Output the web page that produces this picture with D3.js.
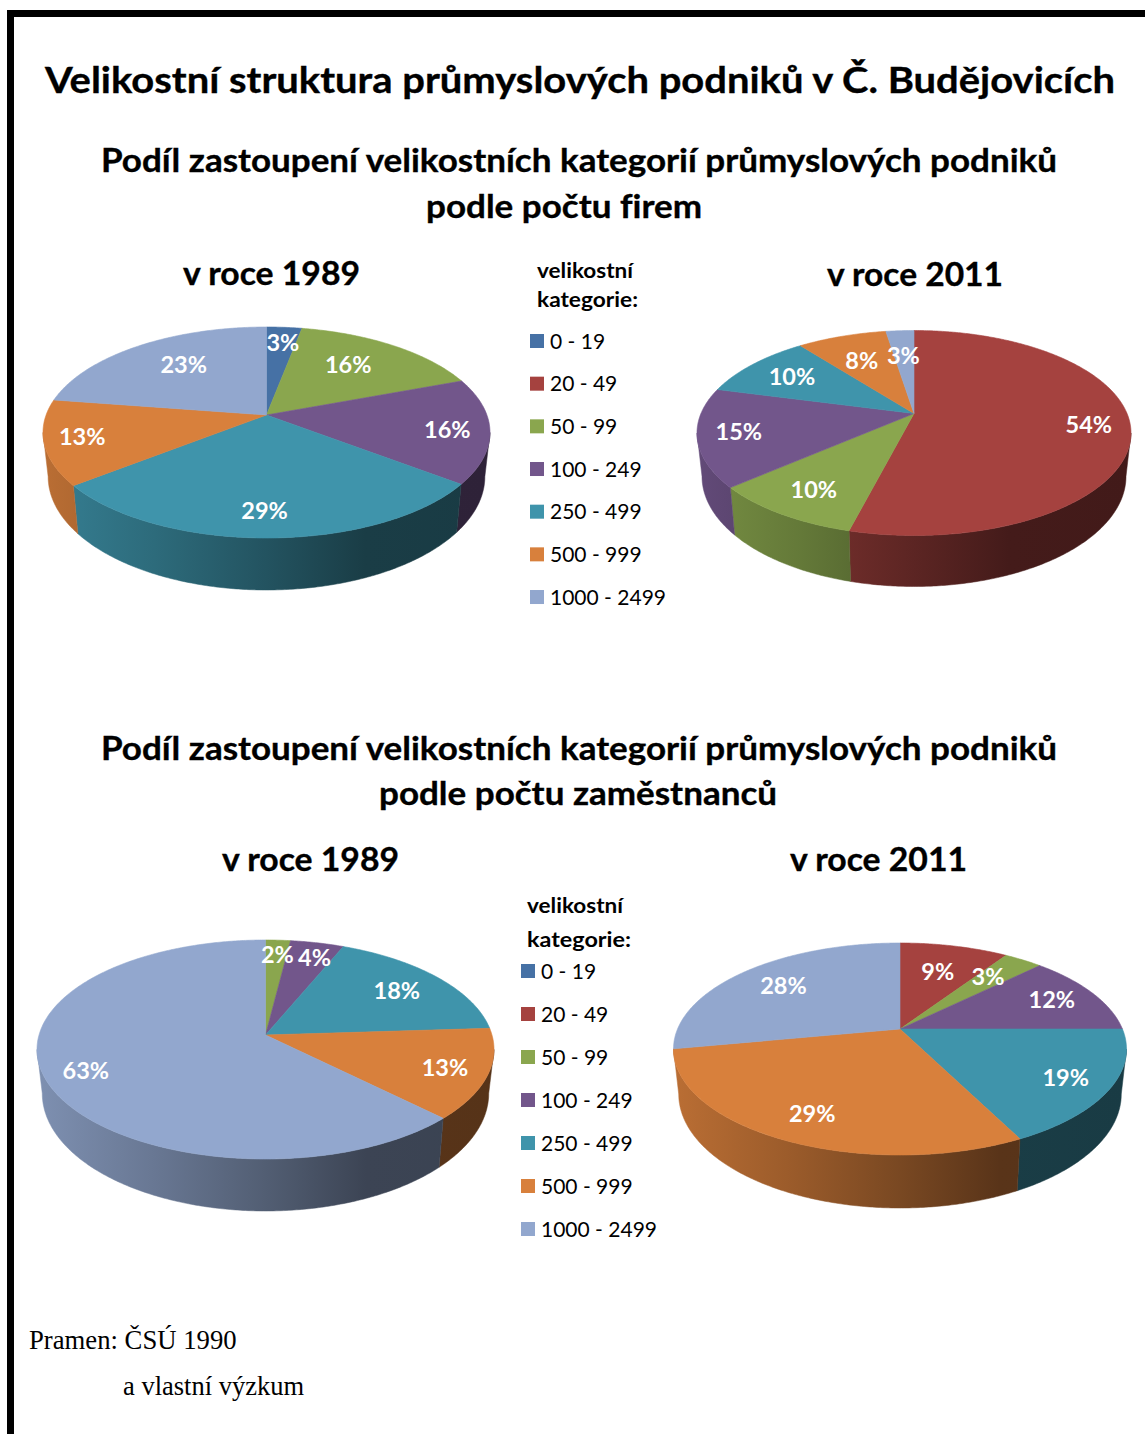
<!DOCTYPE html>
<html lang="cs">
<head>
<meta charset="utf-8">
<title>Velikostní struktura průmyslových podniků v Č. Budějovicích</title>
<script src="https://cdn.jsdelivr.net/npm/d3@7/dist/d3.min.js"></script>
<style>
html,body{margin:0;padding:0;background:#fff;overflow:hidden}
svg{display:block}
text{font-family:Lato,"Open Sans",sans-serif;fill:#000;font-variant-ligatures:none}
</style>
</head>
<body>
<div id="chart"></div>
<script>
const categories = ["0 - 19","20 - 49","50 - 99","100 - 249","250 - 499","500 - 999","1000 - 2499"];
const firms1989 = [3,0,16.3,16.1,29,13,22.6];
const firms2011 = [0,54,9.6,15.49,10.4,8,2.51];
const staff1989 = [0,0,2,4.3,17.7,13.4,62.6];
const staff2011 = [0,9.3,3.3,12.4,17.6,29.4,28];
const firms1989Printed = [3,0,16,16,29,13,23];
const firms2011Printed = [0,54,10,15,10,8,3];
const staff1989Printed = [0,0,2,4,18,13,63];
const staff2011Printed = [0,9,3,12,19,29,28];
const palette = ["#4671A5","#A5423F","#8AA64E","#72568B","#3F94AB","#D8803C","#92A7CE"];
const mainTitle = "Velikostní struktura průmyslových podniků v Č. Budějovicích";
const subtitleLine = "Podíl zastoupení velikostních kategorií průmyslových podniků";
const subtitleFirms = "podle počtu firem";
const subtitleStaff = "podle počtu zaměstnanců";
const year1989 = "v roce 1989";
const year2011 = "v roce 2011";
const legendHead = ["velikostní","kategorie:"];
const sourceLines = ["Pramen: ČSÚ 1990","a vlastní výzkum"];

// ---- layout (pie geometry and label tweaks only) ----
const W = 1145, H = 1434;
const pies = [
  {values:firms1989, printed:firms1989Printed, cx:266.5, cy:415, top:88,  bottom:123, halfW:223.5, depth:52,
   nudge:[[3,-6],[-12,2],[21,4],[-3,12],[-26,3],[12,1]]},
  {values:firms2011, printed:firms2011Printed, cx:914, cy:413.5, top:83,  bottom:122, halfW:217,   depth:51,
   nudge:[[20,2],[-9,8],[-21,2],[-3,0],[2,5],[0,5]]},
  {values:staff1989, printed:staff1989Printed, cx:265.5, cy:1035,top:95,  bottom:124, halfW:228.5, depth:52,
   nudge:[[2.5,-9],[10.5,-8],[5.5,-1],[21.5,5],[-23.5,5]]},
  {values:staff2011, printed:staff2011Printed, cx:900, cy:1029,top:86,  bottom:126, halfW:226.5,   depth:53,
   nudge:[[-3,5],[-4,-1],[11,-2],[19,7],[-7,10],[-3,0]]}
];

const svg = d3.select("#chart").append("svg").attr("width",W).attr("height",H).attr("viewBox",`0 0 ${W} ${H}`);
svg.append("rect").attr("width",W).attr("height",H).attr("fill","#fff");
const defs = svg.append("defs");
const color = d3.scaleOrdinal().domain(categories).range(palette);

// frame
svg.append("rect").attr("x",7).attr("y",10).attr("width",W-7).attr("height",7).attr("fill","#000");
svg.append("rect").attr("x",7).attr("y",10).attr("width",7).attr("height",H-10).attr("fill","#000");

// ---- headings ----
function head(txt,x1,x2,base,size){
  svg.append("text").attr("x",x1).attr("y",base).attr("font-size",size).attr("font-weight",700)
     .attr("stroke","#000").attr("stroke-width",.35)
     .attr("textLength",x2-x1).attr("lengthAdjust","spacingAndGlyphs").text(txt);
}
head(mainTitle,45,1115,93,36);
head(subtitleLine,101,1057,172,32);
head(subtitleFirms,426,702,218,32);
head(year1989,183,360,285,32);
head(year2011,827,1003,286,32);
head(subtitleLine,101,1057,760,32);
head(subtitleStaff,379,777,805,32);
head(year1989,222,399,871,32);
head(year2011,790,967,871,32);

// ---- legends ----
function legend(x,headBase,firstY,step,headX,headW){
  legendHead.forEach((t,i)=>{
    svg.append("text").attr("x",headX).attr("y",headBase[i]).attr("font-size",21).attr("font-weight",700)
       .attr("textLength",headW[i]).attr("lengthAdjust","spacingAndGlyphs").text(t);
  });
  const y = d3.scalePoint().domain(categories).range([firstY,firstY+step*(categories.length-1)]);
  const g = svg.append("g").selectAll("g").data(categories).join("g")
     .attr("transform",d=>`translate(${x},${y(d)})`);
  g.append("rect").attr("x",0).attr("y",-7).attr("width",14).attr("height",14).attr("fill",d=>color(d));
  g.append("text").attr("x",20).attr("y",7.5).attr("font-size",21).text(d=>d);
}
legend(530,[278,307],341,42.67,537,[96,101]);
legend(521,[913,947],971,43,527,[96,104]);

// ---- perspective pies ----
const pieGen = d3.pie().sort(null).value(d=>d.v).startAngle(0).endAngle(2*Math.PI);
const line = d3.line();

function drawPie(p,idx){
  const ratio = p.bottom/p.top;
  const k = (ratio-1)/(ratio+1);
  const Ry = p.top*(1+k);
  const Rx = p.halfW*Math.sqrt(1-k*k);
  const proj = (a,f=1)=>{
    const u=f*Math.sin(a), v=-f*Math.cos(a), w=1-k*v;
    return [p.cx+Rx*u/w, p.cy+Ry*v/w];
  };
  const sy = 1.075, sx = 0.977, base = p.depth-(sy-1)*p.bottom;
  const down = ([x,y])=>[p.cx+(x-p.cx)*sx, p.cy+(y-p.cy)*sy+base];
  const visA = Math.acos(-k), visB = 2*Math.PI-visA;
  const arcs = pieGen(categories.map((c,i)=>({c,v:p.values[i]})));
  const g = svg.append("g");

  // side-wall gradients, darkening left to right
  const gid = i=>`wall${idx}_${i}`;
  categories.forEach((c,i)=>{
    const lg = defs.append("linearGradient").attr("id",gid(i)).attr("gradientUnits","userSpaceOnUse")
      .attr("x1",p.cx-p.halfW).attr("x2",p.cx+p.halfW).attr("y1",0).attr("y2",0);
    [[0,.86],[.25,.72],[.5,.56],[.72,.41],[1,.4]].forEach(([o,f])=>{
      const r=d3.rgb(color(c));
      lg.append("stop").attr("offset",o).attr("stop-color",d3.rgb(r.r*f,r.g*f,r.b*f).formatHex());
    });
  });

  const sample = (a0,a1)=>{
    const n=Math.max(2,Math.ceil((a1-a0)/0.01));
    return d3.range(n+1).map(i=>a0+(a1-a0)*i/n);
  };
  // walls
  arcs.filter(d=>d.value>0).forEach(d=>{
    const a0=Math.max(d.startAngle,visA), a1=Math.min(d.endAngle,visB);
    if(a1<=a0) return;
    const top=sample(a0,a1).map(a=>proj(a));
    const bot=top.map(down).reverse();
    g.append("path").attr("d",line(top.concat(bot))+"Z")
     .attr("fill",`url(#${gid(d.index)})`).attr("stroke",`url(#${gid(d.index)})`).attr("stroke-width",.5);
  });
  // top slices
  arcs.filter(d=>d.value>0).forEach(d=>{
    const pts=[[p.cx,p.cy]].concat(sample(d.startAngle,d.endAngle).map(a=>proj(a)));
    g.append("path").attr("d",line(pts)+"Z").attr("fill",color(d.data.c))
     .attr("stroke",color(d.data.c)).attr("stroke-width",.6).attr("stroke-linejoin","round");
  });
  // value labels
  arcs.filter(d=>d.value>0).forEach((d,i)=>{
    const [x,y]=proj((d.startAngle+d.endAngle)/2,.72);
    const [nx,ny]=p.nudge[i];
    g.append("text").attr("x",x+nx).attr("y",y+ny+8).attr("text-anchor","middle")
     .attr("font-size",23.5).attr("font-weight",700).style("fill","#fff").text(p.printed[d.index]+"%");
  });
}
pies.forEach(drawPie);

// ---- source note ----
svg.append("text").attr("x",29).attr("y",1349).attr("font-size",26.7)
   .style("font-family",'"Liberation Serif","Times New Roman",serif').text(sourceLines[0]);
svg.append("text").attr("x",123).attr("y",1395).attr("font-size",26.5)
   .style("font-family",'"Liberation Serif","Times New Roman",serif').text(sourceLines[1]);
</script>
</body>
</html>
